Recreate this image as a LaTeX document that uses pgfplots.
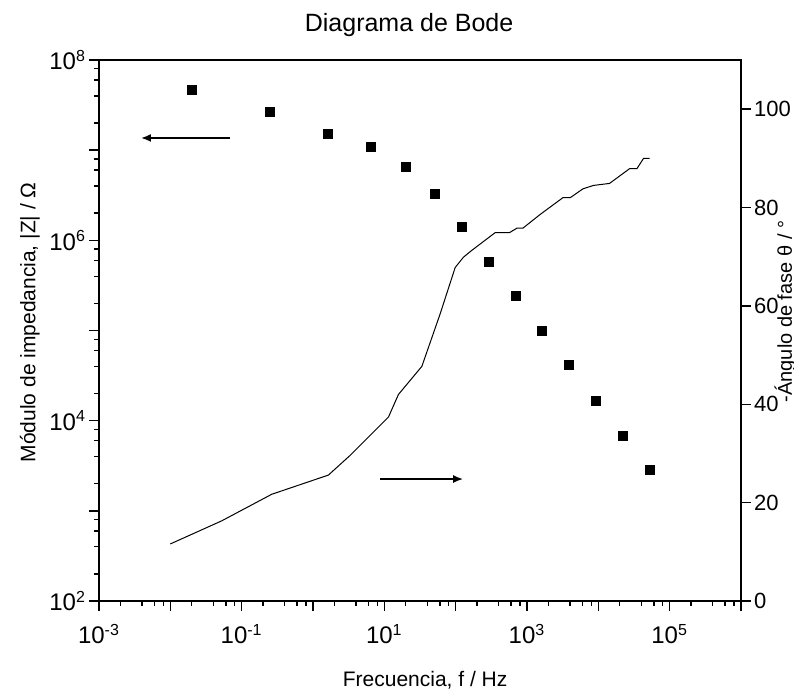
\documentclass[border=0pt]{standalone}
\usepackage{pgfplots}
\pgfplotsset{compat=1.18}
\usepackage{fontspec}
\setmainfont{Liberation Sans}
\usetikzlibrary{arrows.meta}

\begin{document}
\begin{tikzpicture}[font=\fontsize{10.5}{12.5}\selectfont]
\useasboundingbox (-49.5pt,-47.5pt) rectangle (347.5pt,300.5pt);
\begin{axis}[
  scale only axis, width=321pt, height=270.5pt,
  xmode=log, ymode=log,
  xmin=1e-3, xmax=1e6, ymin=1e2, ymax=1e8,
  axis line style={line width=0.8pt},
  tick align=outside,
  xtick pos=left, ytick pos=left,
  major tick length=5pt, minor tick length=2.5pt,
  every tick/.style={black, line width=0.7pt},
  xtick={1e-3,1e-2,1e-1,1,1e1,1e2,1e3,1e4,1e5,1e6},
  xticklabels={10\textsuperscript{-3},,10\textsuperscript{-1},,10\textsuperscript{1},,10\textsuperscript{3},,10\textsuperscript{5},},
  minor xtick={2e-3,4e-3,6e-3,8e-3,2e-2,4e-2,6e-2,8e-2,2e-1,4e-1,6e-1,8e-1,2,4,6,8,20,40,60,80,200,400,600,800,2e3,4e3,6e3,8e3,2e4,4e4,6e4,8e4,2e5,4e5,6e5,8e5},
  ytick={1e2,1e3,1e4,1e5,1e6,1e7,1e8},
  yticklabels={10\textsuperscript{2},,10\textsuperscript{4},,10\textsuperscript{6},,10\textsuperscript{8}},
  minor ytick={2e2,4e2,6e2,8e2,2e3,4e3,6e3,8e3,2e4,4e4,6e4,8e4,2e5,4e5,6e5,8e5,2e6,4e6,6e6,8e6,2e7,4e7,6e7,8e7},
  xticklabel style={font=\fontsize{12}{14}\selectfont, yshift=-3pt},
  yticklabel style={font=\fontsize{12}{14}\selectfont, xshift=2pt},
  title={Diagrama de Bode},
  title style={at={(axis description cs:0.483,1)}, anchor=center, yshift=11.5pt, font=\fontsize{12.5}{15}\selectfont},
  xlabel={Frecuencia, f / Hz},
  xlabel style={at={(axis description cs:0.508,0)}, anchor=center, yshift=-39.5pt},
  ylabel={Módulo de impedancia, |Z| / Ω},
  ylabel style={at={(axis description cs:-0.1075,0.515)}, anchor=center},
  clip=false,
]
\addplot[only marks, mark=square*, mark size=2.25pt, black] coordinates {
(0.02014,4.645e7) (0.2500,2.655e7) (1.629,1.514e7) (6.531,1.084e7)
(20.23,6.592e6) (51.52,3.266e6) (123.3,1.409e6) (295.1,5.768e5)
(706.3,2.393e5) (1633,9.772e4) (3908,4.102e4) (9354,1.637e4)
(22340,6.776e3) (53460,2.812e3)
};
\addplot[black, line width=0.85pt, -{Latex[length=5pt,width=4pt]}] coordinates {(0.0687,1.365e7) (0.00388,1.365e7)};
\end{axis}
\begin{axis}[
  scale only axis, width=321pt, height=270.5pt,
  xmode=log, xmin=1e-3, xmax=1e6, ymin=0, ymax=110,
  axis x line=none, axis y line*=right,
  axis line style={line width=0.8pt},
  tick align=outside,
  major tick length=5pt,
  every tick/.style={black, line width=0.7pt},
  ytick={0,20,40,60,80,100},
  yticklabel style={font=\fontsize{11}{13}\selectfont, xshift=-2pt, /pgf/number format/assume math mode=true},
  ylabel={-Ángulo de fase θ / °},
  ylabel style={at={(axis description cs:1.0794,0.535)}, anchor=base, rotate=0, font=\fontsize{10}{12}\selectfont},
  clip=false,
]
\addplot[black, line width=0.5pt] coordinates {
(0.01,11.6) (0.0526,16.3) (0.264,21.7) (1.644,25.6) (3.311,29.6)
(11.43,37.4) (15.78,42.0) (33.57,47.7) (60.67,58.4) (98.4,67.8)
(128.5,69.9) (168.7,71.3) (358.1,74.9) (568.9,74.9) (721.1,75.8)
(875,75.8) (1531,78.6) (3184,82.0) (4036,82.0) (6081,83.8)
(8570,84.5) (14350,84.9) (27420,87.9) (34750,87.9) (43050,90.0)
(52240,90.0)
};
\addplot[black, line width=0.85pt, -{Latex[length=5pt,width=4pt]}] coordinates {(8.73,24.8) (127.4,24.8)};
\end{axis}
\end{tikzpicture}
\end{document}
